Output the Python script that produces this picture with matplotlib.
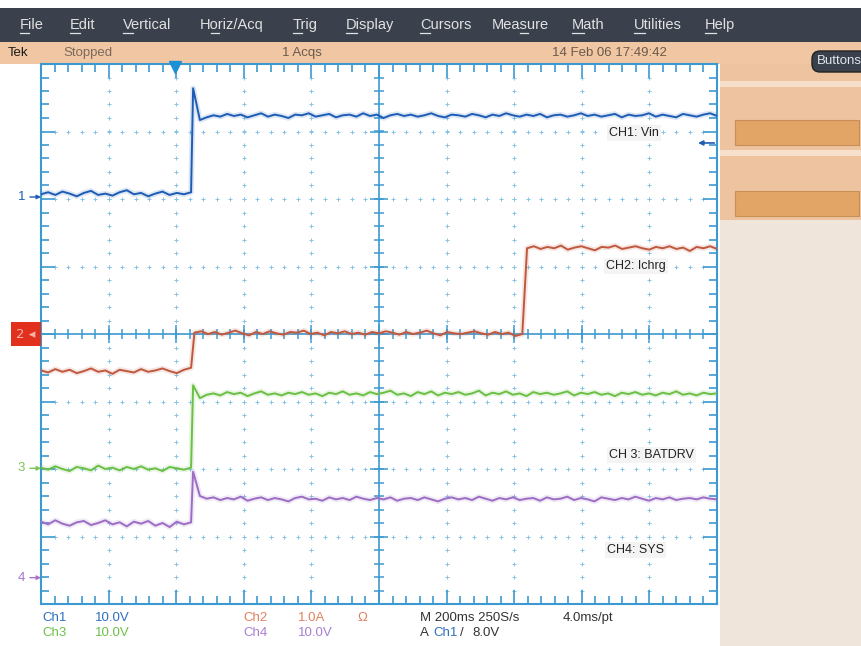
import numpy as np
import matplotlib.pyplot as plt
from matplotlib.patches import Rectangle, FancyBboxPatch

# ---- waveform data, in graticule divisions (10 x 8, centre line = 0) ----
t_step = [2.22, 7.12]           # edge times (div from left)

ch1_pre = [2.07, 2.10, 2.06, 2.11, 2.08, 2.04, 2.09, 2.12, 2.06, 2.08, 2.05,
           2.10, 2.13, 2.07, 2.09, 2.04, 2.08, 2.11, 2.06, 2.09, 2.07, 2.10]
ch1_post = [3.64, 3.17, 3.21, 3.24, 3.22, 3.26, 3.23, 3.25, 3.21, 3.24, 3.27, 3.22, 3.25,
            3.23, 3.20, 3.25, 3.24, 3.27, 3.22, 3.24, 3.26, 3.21, 3.24, 3.25, 3.22, 3.27,
            3.23, 3.25, 3.20, 3.24, 3.26, 3.23, 3.25, 3.22, 3.24, 3.27, 3.23, 3.21, 3.25,
            3.24, 3.22, 3.26, 3.24, 3.21, 3.25, 3.23, 3.27, 3.24, 3.22, 3.25, 3.23, 3.26,
            3.21, 3.24, 3.25, 3.22, 3.24, 3.27, 3.23, 3.25, 3.22, 3.24, 3.26, 3.21, 3.25,
            3.23, 3.24, 3.27, 3.22, 3.25, 3.23, 3.21, 3.26, 3.24, 3.22, 3.25, 3.27, 3.23]

ch2_pre = [-0.54, -0.57, -0.52, -0.56, -0.53, -0.58, -0.55, -0.51, -0.56, -0.54, -0.59,
           -0.53, -0.55, -0.57, -0.52, -0.56, -0.54, -0.51, -0.55, -0.58, -0.53, -0.50]
ch2_mid = [0.02, 0.04, 0.00, 0.03, -0.01, 0.02, 0.05, 0.01, -0.02, 0.03, 0.00, 0.04, 0.01,
           -0.01, 0.03, 0.02, 0.05, 0.00, 0.02, -0.02, 0.03, 0.01, 0.04, 0.00, 0.02, -0.01,
           0.03, 0.01, 0.04, 0.02, -0.01, 0.03, 0.00, 0.02, 0.05, 0.01, -0.02, 0.03, 0.01,
           0.00, 0.02, 0.04, 0.01, -0.01, 0.03, 0.00, 0.02, -0.03, 0.00]
ch2_post = [1.27, 1.30, 1.26, 1.29, 1.27, 1.31, 1.25, 1.28, 1.30, 1.27, 1.24, 1.29, 1.28,
            1.31, 1.26, 1.28, 1.30, 1.27, 1.25, 1.29, 1.27, 1.30, 1.26, 1.28, 1.23, 1.29,
            1.27, 1.30, 1.26]

ch3_pre = [-1.98, -2.01, -1.96, -2.00, -2.03, -1.97, -1.99, -2.02, -1.95, -2.00, -1.98,
           -2.02, -1.97, -2.00, -1.96, -2.01, -1.99, -2.03, -1.97, -1.99, -2.01, -1.98]
ch3_post = [-0.76, -0.95, -0.90, -0.88, -0.91, -0.86, -0.89, -0.87, -0.92, -0.88, -0.85, -0.90, -0.88,
            -0.91, -0.87, -0.89, -0.86, -0.90, -0.88, -0.92, -0.87, -0.89, -0.85, -0.90, -0.88, -0.91,
            -0.86, -0.89, -0.87, -0.84, -0.90, -0.88, -0.92, -0.86, -0.89, -0.85, -0.91, -0.87, -0.89,
            -0.86, -0.90, -0.88, -0.84, -0.91, -0.87, -0.89, -0.85, -0.90, -0.88, -0.92, -0.86, -0.89,
            -0.87, -0.90, -0.88, -0.85, -0.91, -0.87, -0.89, -0.86, -0.90, -0.88, -0.92, -0.87, -0.89,
            -0.86, -0.90, -0.88, -0.91, -0.87, -0.89, -0.85, -0.90, -0.88, -0.91, -0.87, -0.89, -0.88]

ch4_pre = [-2.78, -2.82, -2.76, -2.81, -2.84, -2.79, -2.77, -2.83, -2.80, -2.76, -2.82,
           -2.79, -2.85, -2.78, -2.81, -2.77, -2.84, -2.80, -2.86, -2.78, -2.82, -2.79]
ch4_post = [-2.04, -2.40, -2.44, -2.42, -2.46, -2.43, -2.45, -2.41, -2.47, -2.44, -2.42, -2.46, -2.43,
            -2.45, -2.48, -2.43, -2.41, -2.45, -2.44, -2.47, -2.42, -2.45, -2.43, -2.46, -2.41, -2.44,
            -2.46, -2.43, -2.45, -2.42, -2.47, -2.44, -2.43, -2.46, -2.42, -2.45, -2.48, -2.44, -2.42,
            -2.45, -2.43, -2.46, -2.41, -2.44, -2.47, -2.43, -2.45, -2.42, -2.46, -2.44, -2.43, -2.47,
            -2.42, -2.45, -2.44, -2.41, -2.46, -2.43, -2.45, -2.48, -2.42, -2.44, -2.46, -2.43, -2.45,
            -2.41, -2.44, -2.47, -2.43, -2.45, -2.42, -2.46, -2.44, -2.43, -2.45, -2.42, -2.44, -2.45]

ch_ground = [2.03, 0.0, -1.99, -3.61]
ch_names = ['CH1: Vin', 'CH2: Ichrg', 'CH 3: BATDRV', 'CH4: SYS']
ch_name_pos = [(8.40, 2.98), (8.36, 1.01), (8.40, -1.79), (8.37, -3.20)]
trig_pos = 1.98
trig_level = 2.83

menu_items = ['File', 'Edit', 'Vertical', 'Horiz/Acq', 'Trig', 'Display',
              'Cursors', 'Measure', 'Math', 'Utilities', 'Help']
menu_x = [20, 70, 123, 200, 293, 346, 420, 492, 572, 634, 705]
menu_ul = [0, 0, 0, 1, 0, 0, 0, 3, 0, 0, 0]

# ---- colours / fonts ----
GRID = '#3d9ad1'
DOT = '#86c3e6'
C1, C2, C3, C4 = '#1d5cb5', '#c0583f', '#6bbf45', '#9d6cc4'
NARROW = ['Liberation Sans', 'DejaVu Sans']

fig = plt.figure(figsize=(8.62, 6.46), dpi=100)
fig.patch.set_facecolor('white')

# screen chrome in pixel coords
ui = fig.add_axes([0, 0, 1, 1], zorder=0)
ui.set_xlim(0, 862)
ui.set_ylim(646, 0)
ui.axis('off')

ui.add_patch(Rectangle((0, 8), 862, 34, fc='#3a414d', ec='none'))
ui.add_patch(Rectangle((0, 42), 862, 22, fc='#f1c6a3', ec='none'))
ui.add_patch(Rectangle((720, 64), 142, 582, fc='#efe5da', ec='none'))
ui.add_patch(Rectangle((720, 64), 142, 156, fc='#eec4a0', ec='none'))
ui.add_patch(Rectangle((720, 81), 142, 6, fc='#f6e0cb', ec='none'))
ui.add_patch(Rectangle((720, 150), 142, 6, fc='#f6e0cb', ec='none'))
for by in [120, 191]:
    ui.add_patch(Rectangle((735, by), 124, 25, fc='#e3a566', ec='#c98e55', lw=0.8))
ui.add_patch(FancyBboxPatch((812, 51), 60, 21, boxstyle='round,pad=0,rounding_size=8',
                            fc='#3a414d', ec='#222', lw=1))
ui.text(817, 61.5, 'Buttons', color='#dfe6ee', fontsize=9.5, va='center',
        family=NARROW)

menu_texts = []
for name, x in zip(menu_items, menu_x):
    menu_texts.append(ui.text(x, 25, name, color='#e2e2e2', fontsize=10.5,
                              va='center', family=NARROW))

ui.text(8, 53, 'Tek', color='#1a1a1a', fontsize=9.5, va='center', family=NARROW)
ui.text(63, 53, 'Stopped', color='#7a6a5c', fontsize=9.5, va='center', family=NARROW)
ui.text(282, 53, '1 Acqs', color='#6a5a4c', fontsize=9.5, va='center', family=NARROW)
ui.text(552, 53, '14 Feb 06 17:49:42', color='#6a5a4c', fontsize=9.5, va='center',
        family=NARROW)

# readouts
rd = dict(fontsize=9.5, va='center', family=NARROW)
ui.text(42, 618, 'Ch1', color='#2f6fc0', **rd)
ui.text(95, 618, '10.0V', color='#2f6fc0', **rd)
ui.text(42, 633, 'Ch3', color='#6cc04a', **rd)
ui.text(95, 633, '10.0V', color='#6cc04a', **rd)
ui.text(243, 618, 'Ch2', color='#e0805e', **rd)
ui.text(298, 618, '1.0A', color='#e0805e', **rd)
ui.text(357, 618, 'Ω', color='#e0805e', **rd)
ui.text(243, 633, 'Ch4', color='#a97fd3', **rd)
ui.text(298, 633, '10.0V', color='#a97fd3', **rd)
ui.text(420, 618, 'M 200ms 250S/s', color='#333333', **rd)
ui.text(563, 618, '4.0ms/pt', color='#333333', **rd)
ui.text(420, 633, 'A', color='#333333', **rd)
ui.text(433, 633, 'Ch1', color='#2f6fc0', **rd)
ui.text(460, 633, '/', color='#333333', **rd)
ui.text(472, 633, '8.0V', color='#333333', **rd)

# ---- graticule ----
ax = fig.add_axes([41 / 862, 42 / 646, 676 / 862, 540 / 646], zorder=2)
ax.set_xlim(0, 10)
ax.set_ylim(-4, 4)
ax.set_facecolor('white')
for s in ax.spines.values():
    s.set_color(GRID)
    s.set_linewidth(1.5)
ax.set_xticks(np.arange(0, 11))
ax.set_yticks(np.arange(-4, 5))
ax.set_xticks(np.arange(0, 10.01, 0.2), minor=True)
ax.set_yticks(np.arange(-4, 4.01, 0.2), minor=True)
ax.tick_params(which='both', direction='in', color=GRID, width=1.2,
               top=True, right=True, labelbottom=False, labelleft=False)
ax.tick_params(which='major', length=10)
ax.tick_params(which='minor', length=5.5)

sub_x = np.arange(0, 10.01, 0.2)
sub_y = np.arange(-4, 4.01, 0.2)
for gx in [1, 2, 3, 4, 6, 7, 8, 9]:
    ax.plot(np.full_like(sub_y, gx), sub_y, ls='none', marker='+', ms=3,
            mew=0.7, color=DOT, zorder=1)
for gy in [-3, -2, -1, 1, 2, 3]:
    ax.plot(sub_x, np.full_like(sub_x, gy), ls='none', marker='+', ms=3,
            mew=0.7, color=DOT, zorder=1)
ax.axhline(0, color=GRID, lw=1.2, zorder=1)
ax.axvline(5, color=GRID, lw=1.2, zorder=1)
ax.plot(sub_x, np.zeros_like(sub_x), ls='none', marker='|', ms=7, mew=1.1,
        color=GRID, zorder=1)
ax.plot(np.full_like(sub_y, 5), sub_y, ls='none', marker='_', ms=7, mew=1.1,
        color=GRID, zorder=1)
ax.plot(np.arange(0, 11), np.zeros(11), ls='none', marker='|', ms=13, mew=1.1,
        color=GRID, zorder=1)
ax.plot(np.full(9, 5), np.arange(-4, 5), ls='none', marker='_', ms=13, mew=1.1,
        color=GRID, zorder=1)


# ---- traces ----
def two_seg(pre, post, ts):
    t = np.concatenate([np.linspace(0, ts, len(pre)),
                        np.linspace(ts + 0.03, 10, len(post))])
    return t, np.array(pre + post)


t1, v1 = two_seg(ch1_pre, ch1_post, t_step[0])
t3, v3 = two_seg(ch3_pre, ch3_post, t_step[0])
t4, v4 = two_seg(ch4_pre, ch4_post, t_step[0])
t2 = np.concatenate([np.linspace(0, t_step[0], len(ch2_pre)),
                     np.linspace(t_step[0] + 0.05, t_step[1], len(ch2_mid)),
                     np.linspace(t_step[1] + 0.07, 10, len(ch2_post))])
v2 = np.array(ch2_pre + ch2_mid + ch2_post)

for t, v, c in [(t2, v2, C2), (t3, v3, C3), (t4, v4, C4), (t1, v1, C1)]:
    ax.plot(t, v, color=c, lw=4, alpha=0.15, zorder=3, solid_joinstyle='round')
    ax.plot(t, v, color=c, lw=1.4, zorder=4, solid_joinstyle='round')

for (x, y), name in zip(ch_name_pos, ch_names):
    ax.text(x, y, name, color='#222222', fontsize=9, va='center', zorder=5,
            family=NARROW,
            bbox=dict(fc='#f3f3f3', ec='none', pad=1.5, alpha=0.9))

# ground markers on the left
for i, (lvl, c) in enumerate(zip(ch_ground, [C1, C2, '#7cc655', '#a874cc'])):
    if i == 1:
        ax.annotate('2 ◂', xy=(0, lvl), xytext=(-11, 0), textcoords='offset points',
                    ha='center', va='center', color='#f6b3a5', fontsize=9.5,
                    annotation_clip=False,
                    bbox=dict(boxstyle='square,pad=0.4', fc='#e2301f', ec='none'))
        continue
    ax.annotate('', xy=(0, lvl), xytext=(-8, 0), textcoords='offset points',
                annotation_clip=False,
                arrowprops=dict(arrowstyle='-|>', color=c, lw=1, mutation_scale=6,
                                shrinkA=0, shrinkB=0))
    ax.annotate(str(i + 1), xy=(0, lvl), xytext=(-14, 0), textcoords='offset points',
                ha='center', va='center', color=c, fontsize=9.5, family=NARROW,
                annotation_clip=False)

# trigger position and level
ax.plot([trig_pos], [3.95], marker='v', ms=8, color='#1e90d6', clip_on=False, zorder=6)
ax.annotate('', xy=(9.72, trig_level), xytext=(9.96, trig_level),
            arrowprops=dict(arrowstyle='-|>', color=C1, lw=1.2, mutation_scale=7,
                            shrinkA=0, shrinkB=0))

# menu mnemonics underlined
fig.canvas.draw()
r = fig.canvas.get_renderer()
inv = ui.transData.inverted()
for txt, name, k in zip(menu_texts, menu_items, menu_ul):
    x0 = txt.get_window_extent(r).x0
    tmp_a = ui.text(0, 0, name[:k], fontsize=10.5, family=NARROW)
    tmp_b = ui.text(0, 0, name[:k + 1], fontsize=10.5, family=NARROW)
    wa = tmp_a.get_window_extent(r).width if k > 0 else 0
    wb = tmp_b.get_window_extent(r).width
    tmp_a.remove()
    tmp_b.remove()
    xa = inv.transform((x0 + wa, 0))[0]
    xb = inv.transform((x0 + wb, 0))[0]
    ui.plot([xa, xb], [32.5, 32.5], color='#e2e2e2', lw=0.9)

fig.savefig('out.png', dpi=100)
